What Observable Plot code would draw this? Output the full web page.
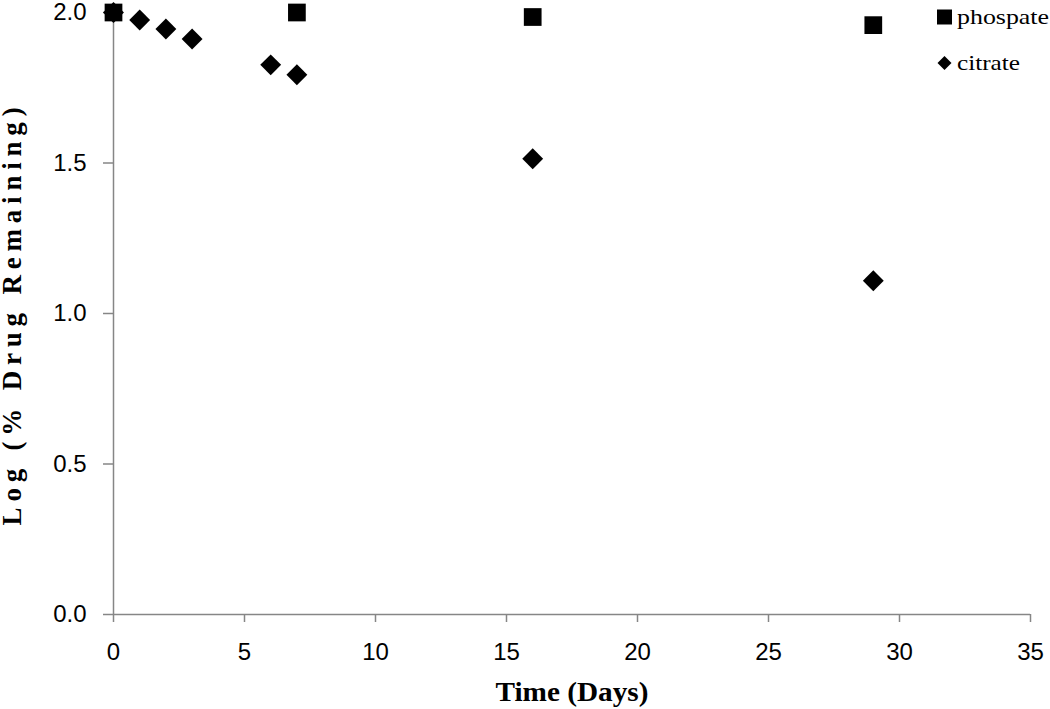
<!DOCTYPE html>
<html><head><meta charset="utf-8">
<script src="https://cdn.jsdelivr.net/npm/d3@7"></script>
<script src="https://cdn.jsdelivr.net/npm/@observablehq/plot@0.6"></script>
<style>
body{margin:0;background:#fff}
#chart{position:relative;width:1050px;height:709px}
#legend{position:absolute;left:0;top:0;pointer-events:none}
</style>
</head><body><div id="chart"></div>
<script>
// ---- data ----
const seriesNames = ["phospate", "citrate"];
const daysPhosphate = [0, 7, 16, 29];
const logPhosphate = [2.0, 2.0, 1.985, 1.958];
const daysCitrate = [0, 1, 2, 3, 6, 7, 16, 29];
const logCitrate = [2.0, 1.975, 1.945, 1.912, 1.826, 1.793, 1.514, 1.109];
const xTicks = [0, 5, 10, 15, 20, 25, 30, 35];
const yTicks = [0, 0.5, 1.0, 1.5, 2.0];
const xTitle = ["Time (Days)"];
const yTitle = ["Log (% Drug Remaining)"];

const phosphate = daysPhosphate.map((d, i) => ({day: d, value: logPhosphate[i]}));
const citrate = daysCitrate.map((d, i) => ({day: d, value: logCitrate[i]}));

const axisColor = "#868686";
const serif = "'Liberation Serif', 'Times New Roman', serif";
const sans = "'Liberation Sans', Arial, sans-serif";

const plot = Plot.plot({
  width: 1050, height: 709,
  marginTop: 12, marginRight: 20, marginBottom: 95, marginLeft: 113,
  style: {background: "#fff", color: "#000", fontFamily: sans},
  x: {domain: [0, 35]},
  y: {domain: [0, 2]},
  marks: [
    Plot.ruleY([0], {stroke: axisColor, strokeWidth: 1.5}),
    Plot.ruleX([0], {y1: 0, y2: 2, stroke: axisColor, strokeWidth: 1.5}),
    Plot.axisX(xTicks, {tickSize: 8, tickPadding: 20, stroke: axisColor, strokeWidth: 1.5, fill: "#000",
      fontSize: 24, fontFamily: sans, label: null}),
    Plot.axisY(yTicks, {tickSize: 10, tickPadding: 17, stroke: axisColor, strokeWidth: 1.5, fill: "#000",
      fontSize: 24, fontFamily: sans, tickFormat: d3.format(".1f"), label: null}),
    Plot.text(xTitle, {frameAnchor: "bottom", dy: 78, textAnchor: "middle", lineAnchor: "middle", fontSize: 27,
      fontWeight: "bold", fontFamily: serif}),
    Plot.text(yTitle, {frameAnchor: "left", dx: -101, rotate: -90, textAnchor: "middle", lineAnchor: "middle",
      fontSize: 27, fontWeight: "bold", fontFamily: serif}),
    Plot.dot(citrate, {x: "day", y: "value", symbol: "diamond2", r: 9.4, fill: "#000", stroke: "none"}),
    Plot.dot(phosphate, {x: "day", y: "value", symbol: "square", r: 10, fill: "#000", stroke: "none"})
  ]
});

const svgSel = d3.select(plot);
svgSel.selectAll("text").filter(function() { return this.textContent === xTitle[0]; })
  .attr("textLength", 153).attr("lengthAdjust", "spacingAndGlyphs");
svgSel.selectAll("text").filter(function() { return this.textContent === yTitle[0]; })
  .style("letter-spacing", "5.8px");

const chart = document.getElementById("chart");
chart.appendChild(plot);

// ---- legend (overlay) ----
const legend = d3.create("svg").attr("id", "legend").attr("width", 1050).attr("height", 709);
const legSymbols = [d3.symbol(d3.symbolSquare, 225), d3.symbol(d3.symbolDiamond2, 125)];
const legY = [17, 63];
const legLen = [92, 63];
seriesNames.forEach((name, i) => {
  legend.append("path").attr("d", legSymbols[i]()).attr("transform", `translate(944.5,${legY[i]})`).attr("fill", "#000");
  legend.append("text").attr("x", 957).attr("y", legY[i] + 7).attr("font-family", serif).attr("font-size", 22)
    .attr("textLength", legLen[i]).attr("lengthAdjust", "spacingAndGlyphs").attr("fill", "#000").text(name);
});
chart.appendChild(legend.node());
</script>
</body></html>
